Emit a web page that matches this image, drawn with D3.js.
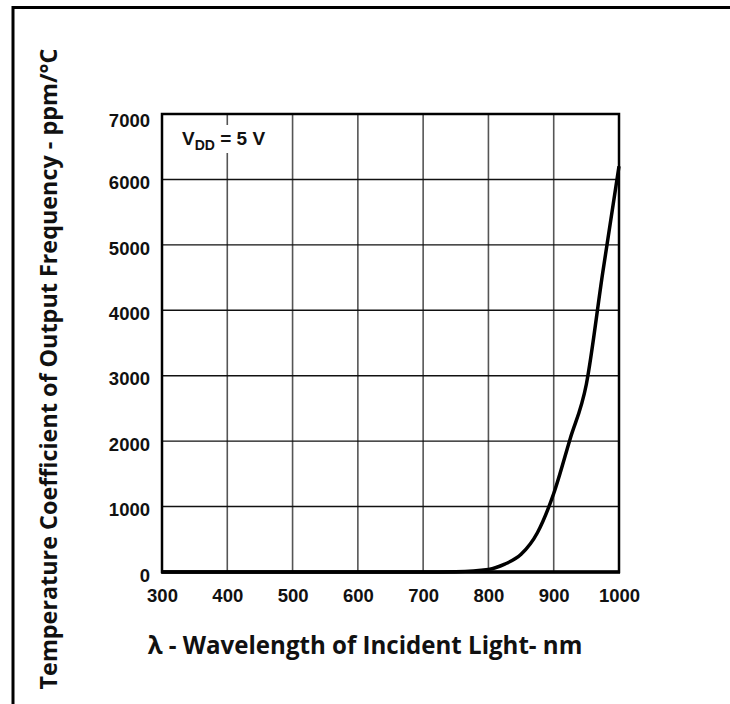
<!DOCTYPE html>
<html>
<meta charset="utf-8">
<title>Temperature Coefficient vs Wavelength</title>
<style>
	html, body { margin: 0; padding: 0; overflow: hidden; background-color: #ffffff; }
	svg { display: block; }
	.title { font-family: "Open Sans", "Noto Sans", sans-serif; font-weight: bold; fill: #111; }
</style>
<body>
	<div id="chart"></div>
</body>
<script src="https://cdn.jsdelivr.net/npm/d3@7"></script>
<script>

	// Curve: wavelength (nm) and ppm/°C
	var wavelength = [300, 400, 500, 600, 700, 750, 800, 825, 850, 875, 900, 925, 950, 975, 1000];
	var tempCoef   = [0, 0, 0, 0, 0, 5, 40, 120, 270, 600, 1200, 2030, 2870, 4570, 6200];

	var xTicks = [300, 400, 500, 600, 700, 800, 900, 1000];
	var yTicks = [0, 1000, 2000, 3000, 4000, 5000, 6000, 7000];

	var xTitle = "λ - Wavelength of Incident Light- nm";
	var yTitle = "Temperature Coefficient of Output Frequency - ppm/°C";

	// Page size and plot box
	var W = 730, H = 704;
	var box = { left: 162, top: 114, right: 619, bottom: 572 };
	var labelFont = "\"Liberation Sans\", Arial, sans-serif";

	var svg = d3.select("#chart").append("svg")
		.attr("width", W)
		.attr("height", H);

	// Frame around the figure (only top and left visible)
	svg.append("line").attr("x1", 12).attr("x2", W).attr("y1", 7.5).attr("y2", 7.5)
		.attr("stroke", "#000").attr("stroke-width", 3);
	svg.append("line").attr("x1", 13).attr("x2", 13).attr("y1", 6).attr("y2", H)
		.attr("stroke", "#000").attr("stroke-width", 3);

	var x = d3.scaleLinear().domain([300, 1000]).range([box.left, box.right]);
	var y = d3.scaleLinear().domain([0, 7000]).range([box.bottom, box.top]);

	// Grid
	svg.append("g").selectAll("line")
		.data(xTicks.slice(1, -1)).enter().append("line")
		.attr("x1", function (d) { return x(d); })
		.attr("x2", function (d) { return x(d); })
		.attr("y1", box.top).attr("y2", box.bottom)
		.attr("stroke", "#555").attr("stroke-width", 1.6);

	svg.append("g").selectAll("line")
		.data(yTicks.slice(1, -1)).enter().append("line")
		.attr("x1", box.left).attr("x2", box.right)
		.attr("y1", function (d) { return y(d); })
		.attr("y2", function (d) { return y(d); })
		.attr("stroke", "#111").attr("stroke-width", 1.4);

	// VDD note with white backing over the grid
	svg.append("rect")
		.attr("x", 177).attr("y", 125).attr("width", 96).attr("height", 28)
		.attr("fill", "#fff");
	var note = svg.append("text")
		.attr("x", 182).attr("y", 145)
		.style("font-family", labelFont).style("font-weight", "bold")
		.style("font-size", "19px").style("fill", "#111");
	note.append("tspan").text("V");
	note.append("tspan").attr("dy", 5).style("font-size", "14px").text("DD");
	note.append("tspan").attr("dy", -5).text(" = 5 V");

	// Plot border
	svg.append("rect")
		.attr("x", box.left).attr("y", box.top)
		.attr("width", box.right - box.left).attr("height", box.bottom - box.top)
		.attr("fill", "none").attr("stroke", "#000").attr("stroke-width", 2.5);
	svg.append("line")
		.attr("x1", box.left - 1).attr("x2", box.right + 1)
		.attr("y1", box.bottom).attr("y2", box.bottom)
		.attr("stroke", "#000").attr("stroke-width", 3.5);

	// Axes (labels only)
	var xAxis = d3.axisBottom(x).tickValues(xTicks).tickSize(0).tickPadding(17).tickFormat(d3.format("d"));
	var yAxis = d3.axisLeft(y).tickValues(yTicks).tickSize(0).tickPadding(12).tickFormat(d3.format("d"));

	function styleTicks(g) {
		g.select(".domain").remove();
		g.selectAll(".tick text")
			.style("font-family", labelFont)
			.style("font-weight", "bold")
			.style("font-size", "18.5px")
			.style("fill", "#111");
	}

	svg.append("g").attr("transform", "translate(0," + box.bottom + ")").call(xAxis).call(styleTicks);
	svg.append("g").attr("transform", "translate(" + box.left + ",0)").call(yAxis).call(styleTicks)
		.selectAll(".tick text")
		.attr("dy", function (d) { return d === 7000 ? "0.68em" : "0.5em"; });

	// Curve
	var line = d3.line()
		.x(function (d, i) { return x(wavelength[i]); })
		.y(function (d) { return y(d); })
		.curve(d3.curveMonotoneX);

	svg.append("path")
		.datum(tempCoef)
		.attr("d", line)
		.attr("fill", "none")
		.attr("stroke", "#000")
		.attr("stroke-width", 3.5)
		.attr("stroke-linejoin", "round");

	// Axis titles, sized to the lengths in the picture
	function fitTitle(sel, len) {
		var w = sel.node().getComputedTextLength();
		var fs = parseFloat(sel.style("font-size"));
		sel.style("font-size", (fs * len / w) + "px");
	}

	var xt = svg.append("text").attr("class", "title")
		.attr("x", 365).attr("y", 654)
		.attr("text-anchor", "middle")
		.style("font-size", "22px")
		.text(xTitle);
	fitTitle(xt, 435);

	var yt = svg.append("text").attr("class", "title")
		.attr("transform", "translate(57,369) rotate(-90)")
		.attr("text-anchor", "middle")
		.style("font-size", "22px")
		.text(yTitle);
	fitTitle(yt, 641);

</script>
</html>
